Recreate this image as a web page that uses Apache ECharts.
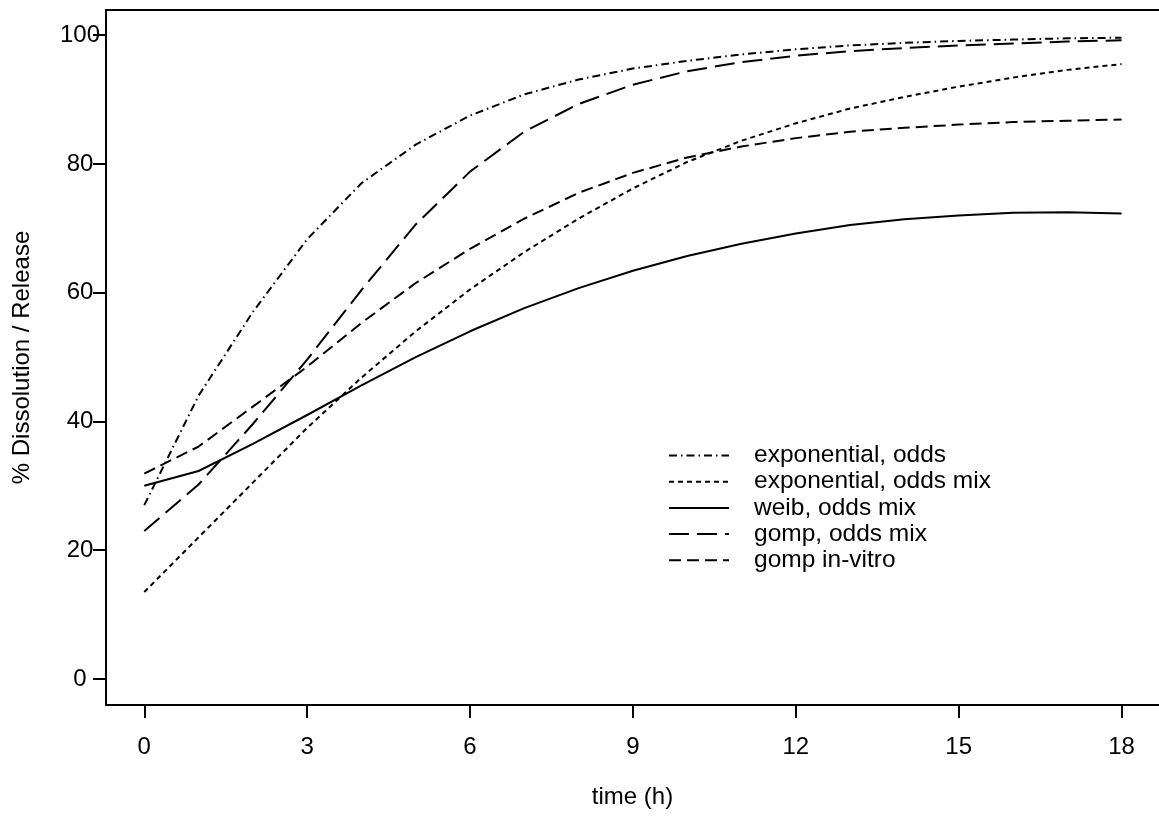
<!DOCTYPE html>
<html>
<head>
<meta charset="utf-8">
<script src="https://cdn.jsdelivr.net/npm/echarts@6/dist/echarts.min.js"></script>
<style>
html,body{margin:0;padding:0;background:#fff;}
#chart{width:1159px;height:819px;}
</style>
</head>
<body>
<div id="chart"></div>
<script>
const times = [0,1,2,3,4,5,6,7,8,9,10,11,12,13,14,15,16,17,18];
const xTicks = [0,3,6,9,12,15,18];
const yTicks = [0,20,40,60,80,100];
const seriesNames = ['exponential, odds','exponential, odds mix','weib, odds mix','gomp, odds mix','gomp in-vitro'];
const expOdds    = [27.0,44.0,57.0,68.3,77.0,83.0,87.5,90.8,93.1,94.8,96.0,97.0,97.8,98.4,98.8,99.1,99.3,99.5,99.6];
const expOddsMix = [13.5,22.0,30.5,39.0,46.8,54.0,60.5,66.3,71.5,76.2,80.3,83.6,86.3,88.6,90.4,92.0,93.4,94.6,95.5];
const weibMix    = [30.0,32.3,36.5,41.0,45.6,50.0,54.0,57.6,60.7,63.4,65.7,67.6,69.2,70.5,71.4,72.0,72.4,72.5,72.3];
const gompMix    = [23.0,30.2,39.6,49.6,60.4,70.6,78.8,85.0,89.3,92.3,94.4,95.8,96.8,97.5,98.0,98.4,98.7,99.0,99.2];
const gompVitro  = [31.9,36.1,42.3,48.5,55.3,61.5,66.8,71.5,75.5,78.6,81.0,82.7,84.0,85.0,85.6,86.1,86.5,86.7,86.9];

const allValues = [expOdds, expOddsMix, weibMix, gompMix, gompVitro];
const dashes = [[8,4,1.5,4],[5,4],'solid',[20,8],[12,6]];

const font = 'Liberation Sans, Arial, Helvetica, sans-serif';
const chart = echarts.init(document.getElementById('chart'));

const series = allValues.map((vals, i) => ({
  name: seriesNames[i],
  type: 'line',
  data: times.map((t, j) => [t, vals[j]]),
  showSymbol: false,
  symbol: 'none',
  smooth: false,
  animation: false,
  lineStyle: {color: '#000', width: 2, type: dashes[i]},
  itemStyle: {color: '#000'}
}));

chart.setOption({
  backgroundColor: '#fff',
  animation: false,
  grid: {left: 106, right: 0, top: 10, bottom: 114, containLabel: false},
  legend: {
    orient: 'vertical',
    left: 663,
    top: 438,
    itemWidth: 60,
    itemHeight: 14,
    itemGap: 1.2,
    itemStyle: {color: 'rgba(0,0,0,0)', borderColor: 'rgba(0,0,0,0)', borderWidth: 0, opacity: 0},
    lineStyle: {color: '#000', width: 2},
    textStyle: {fontFamily: font, fontSize: 24.5, color: '#000', lineHeight: 24, padding: [0,0,0,20]},
    data: seriesNames
  },
  xAxis: [{
    type: 'value',
    min: -0.705,
    max: 18.69,
    name: 'time (h)',
    nameLocation: 'middle',
    nameGap: 80,
    nameTextStyle: {fontFamily: font, fontSize: 24, color: '#000'},
    axisLine: {show: true, onZero: false, lineStyle: {color: '#000', width: 2}},
    axisTick: {show: true, length: 13, customValues: xTicks, lineStyle: {color: '#000', width: 2}},
    axisLabel: {customValues: xTicks, fontFamily: font, fontSize: 24, color: '#000', margin: 42, verticalAlign: 'middle'},
    splitLine: {show: false}
  },{
    type: 'value',
    position: 'top',
    min: -0.705,
    max: 18.69,
    axisLine: {show: true, onZero: false, lineStyle: {color: '#000', width: 2}},
    axisTick: {show: false},
    axisLabel: {show: false},
    splitLine: {show: false}
  }],
  yAxis: {
    type: 'value',
    min: -4.04,
    max: 103.9,
    name: '% Dissolution / Release',
    nameLocation: 'middle',
    nameGap: 72,
    nameRotate: 90,
    nameTextStyle: {fontFamily: font, fontSize: 24, color: '#000'},
    axisLine: {show: true, onZero: false, lineStyle: {color: '#000', width: 2}},
    axisTick: {show: true, length: 13, customValues: yTicks, lineStyle: {color: '#000', width: 2}},
    axisLabel: {customValues: yTicks, fontFamily: font, fontSize: 24, color: '#000', margin: 26, align: 'center', verticalAlign: 'middle', padding: [10,0,0,0]},
    splitLine: {show: false}
  },
  series: series
});
</script>
</body>
</html>
